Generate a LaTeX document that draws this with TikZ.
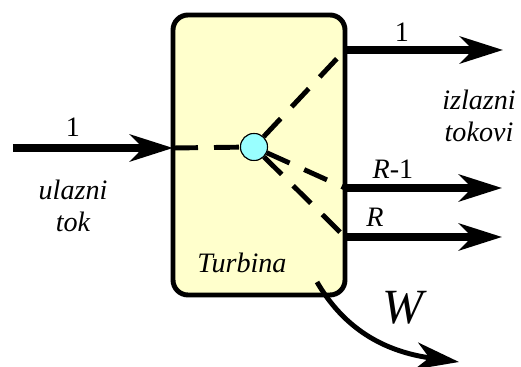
\documentclass[tikz,border=0pt]{standalone}
\usepackage{fontspec}
\setmainfont{LiberationSerif}[Extension=.ttf,UprightFont=*-Regular,ItalicFont=*-Italic,BoldFont=*-Bold,BoldItalicFont=*-BoldItalic]
\usepackage{tikz}
\usetikzlibrary{arrows.meta,positioning}

\definecolor{boxfill}{RGB}{255,255,204}
\definecolor{mixfill}{RGB}{153,255,255}

\begin{document}
\begin{tikzpicture}[>={Stealth[length=8.6mm,width=5.4mm,inset=2.6mm]},
  unitbox/.style={draw=black,line width=2.8pt,rounded corners=0.3cm,fill=boxfill,minimum width=3.44cm,minimum height=5.6cm,inner sep=0pt},
  mixer/.style={circle,draw=black,line width=0.6pt,fill=mixfill,minimum size=0.54cm,inner sep=0pt},
  flow/.style={->,line width=4pt},
  split/.style={line width=2.8pt,dash pattern=on 0.5cm off 0.32cm},
  work/.style={->,line width=2.8pt},
  lbl/.style={font=\fontsize{16}{18}\selectfont\itshape,inner sep=1pt,align=center}]
\useasboundingbox (0,0) rectangle (10.42,7.34);
\node[unitbox] (turb) at (5.18,4.24) {};
\node[lbl] (tname) at (4.84,2.08) {Turbina};
% ulaz
\coordinate (in0) at (0.26,4.38);
\coordinate (in1) at (3.46,4.38);
% izlazi
\coordinate (o1) at (6.90,6.34);
\coordinate (o2) at (6.90,3.58);
\coordinate (o3) at (6.90,2.60);
\coordinate (t1) at (10.06,6.34);
\coordinate (t2) at (10.04,3.58);
\coordinate (t3) at (10.04,2.60);
\node[mixer] (mix) at (5.08,4.40) {};
\draw[split] (in1) -- (mix);
\draw[split] (mix) -- (o1);
\draw[split] (mix) -- (o2);
\draw[split] (mix) -- (o3);
\node[mixer] at (mix) {};
\draw[flow] (in0) -- (in1);
\draw[flow] (o1) -- (t1);
\draw[flow] (o2) -- (t2);
\draw[flow] (o3) -- (t3);
% rad
\coordinate (w0) at (6.34,1.70);
\coordinate (w1) at (9.18,0.10);
\draw[work] (w0) to[out=-60,in=172] (w1);
% oznake
\node[lbl,font=\fontsize{16}{18}\selectfont] (lin) at (1.46,4.80) {1};
\node[lbl] (ulaz) at (1.46,3.22) {ulazni\\tok};
\node[lbl,font=\fontsize{16}{18}\selectfont] (lo1) at (8.04,6.70) {1};
\node[lbl,font=\fontsize{16}{18}\selectfont] (lo2) at (7.86,3.96) {\textit{R}-1};
\node[lbl] (lo3) at (7.50,3.00) {R};
\node[lbl] (izlaz) at (9.58,5.02) {izlazni\\tokovi};
\node[font=\fontsize{28}{30}\selectfont\itshape,inner sep=1pt] (wlbl) at (8.06,1.18) {W};
\end{tikzpicture}
\end{document}
